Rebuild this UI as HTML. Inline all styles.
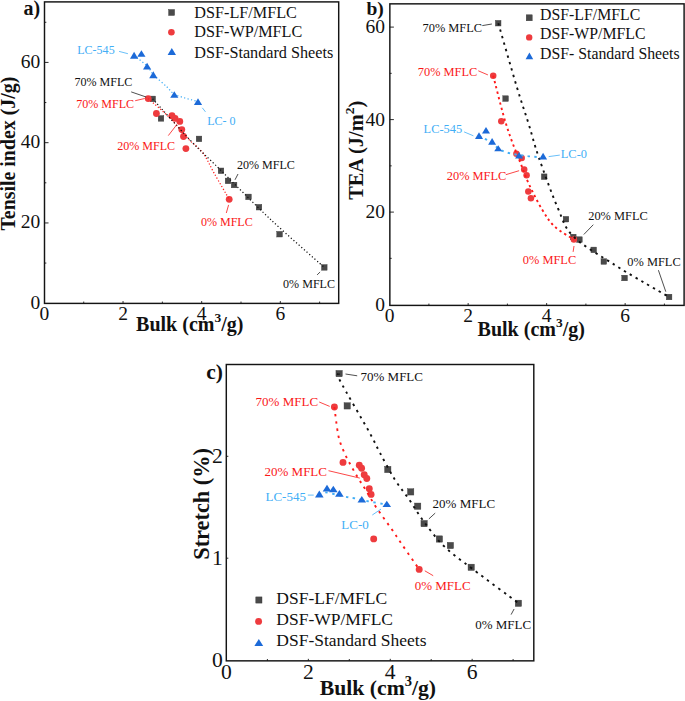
<!DOCTYPE html><html><head><meta charset="utf-8"><style>html,body{margin:0;padding:0;background:#fff;width:685px;height:701px;overflow:hidden}svg{display:block;font-family:"Liberation Serif",serif}</style></head><body>
<svg width="685" height="701" viewBox="0 0 685 701">
<rect x="44.5" y="1.9" width="294.20" height="301.50" fill="none" stroke="#141414" stroke-width="1.45"/>
<line x1="83.72" y1="303.4" x2="83.72" y2="301.57" stroke="#141414" stroke-width="0.9"/>
<line x1="123.04" y1="303.4" x2="123.04" y2="301.07" stroke="#141414" stroke-width="0.9"/>
<line x1="162.36" y1="303.4" x2="162.36" y2="301.57" stroke="#141414" stroke-width="0.9"/>
<line x1="201.68" y1="303.4" x2="201.68" y2="301.07" stroke="#141414" stroke-width="0.9"/>
<line x1="241.00" y1="303.4" x2="241.00" y2="301.57" stroke="#141414" stroke-width="0.9"/>
<line x1="280.32" y1="303.4" x2="280.32" y2="301.07" stroke="#141414" stroke-width="0.9"/>
<line x1="319.64" y1="303.4" x2="319.64" y2="301.57" stroke="#141414" stroke-width="0.9"/>
<line x1="44.5" y1="263.07" x2="46.33" y2="263.07" stroke="#141414" stroke-width="0.9"/>
<line x1="44.5" y1="222.94" x2="48.52" y2="222.94" stroke="#141414" stroke-width="0.9"/>
<line x1="44.5" y1="182.81" x2="46.33" y2="182.81" stroke="#141414" stroke-width="0.9"/>
<line x1="44.5" y1="142.68" x2="48.52" y2="142.68" stroke="#141414" stroke-width="0.9"/>
<line x1="44.5" y1="102.55" x2="46.33" y2="102.55" stroke="#141414" stroke-width="0.9"/>
<line x1="44.5" y1="62.42" x2="48.52" y2="62.42" stroke="#141414" stroke-width="0.9"/>
<line x1="44.5" y1="22.29" x2="46.33" y2="22.29" stroke="#141414" stroke-width="0.9"/>
<text x="40.2" y="308.59999999999997" fill="#111" font-size="19.5" font-weight="normal" text-anchor="end" >0</text>
<text x="40.2" y="228.34" fill="#111" font-size="19.5" font-weight="normal" text-anchor="end" >20</text>
<text x="40.2" y="148.08" fill="#111" font-size="19.5" font-weight="normal" text-anchor="end" >40</text>
<text x="40.2" y="67.82" fill="#111" font-size="19.5" font-weight="normal" text-anchor="end" >60</text>
<text x="44.4" y="320.1" fill="#111" font-size="19.5" font-weight="normal" text-anchor="middle" >0</text>
<text x="123.03999999999999" y="320.1" fill="#111" font-size="19.5" font-weight="normal" text-anchor="middle" >2</text>
<text x="201.68" y="320.1" fill="#111" font-size="19.5" font-weight="normal" text-anchor="middle" >4</text>
<text x="280.32" y="320.1" fill="#111" font-size="19.5" font-weight="normal" text-anchor="middle" >6</text>
<text x="15.4" y="153.6" fill="#111" font-size="19.9" font-weight="bold" text-anchor="middle" transform="rotate(-90 15.4 153.6)">Tensile index (J/g)</text>
<text x="136.1" y="330.5" fill="#111" font-size="20" font-weight="bold" text-anchor="start" >Bulk (cm<tspan dy="-8.6" font-size="13.5">3</tspan><tspan dy="8.6">/g)</tspan></text>
<text x="23.5" y="15.0" fill="#111" font-size="20" font-weight="bold" text-anchor="start" >a)</text>
<rect x="149.90" y="96.10" width="5.60" height="5.60" fill="#4a4a4a" stroke="#383838" stroke-width="0.4"/>
<rect x="158.20" y="115.60" width="5.60" height="5.60" fill="#4a4a4a" stroke="#383838" stroke-width="0.4"/>
<rect x="196.20" y="136.10" width="5.60" height="5.60" fill="#4a4a4a" stroke="#383838" stroke-width="0.4"/>
<rect x="218.20" y="168.00" width="5.60" height="5.60" fill="#4a4a4a" stroke="#383838" stroke-width="0.4"/>
<rect x="225.20" y="178.10" width="5.60" height="5.60" fill="#4a4a4a" stroke="#383838" stroke-width="0.4"/>
<rect x="231.30" y="182.20" width="5.60" height="5.60" fill="#4a4a4a" stroke="#383838" stroke-width="0.4"/>
<rect x="245.70" y="194.10" width="5.60" height="5.60" fill="#4a4a4a" stroke="#383838" stroke-width="0.4"/>
<rect x="256.20" y="204.40" width="5.60" height="5.60" fill="#4a4a4a" stroke="#383838" stroke-width="0.4"/>
<rect x="276.80" y="231.40" width="5.60" height="5.60" fill="#4a4a4a" stroke="#383838" stroke-width="0.4"/>
<rect x="321.50" y="264.60" width="5.60" height="5.60" fill="#4a4a4a" stroke="#383838" stroke-width="0.4"/>
<circle cx="148.20" cy="98.60" r="3.40" fill="#ee3b3e"/>
<circle cx="156.40" cy="113.50" r="3.40" fill="#ee3b3e"/>
<circle cx="172.00" cy="115.70" r="3.40" fill="#ee3b3e"/>
<circle cx="175.10" cy="118.40" r="3.40" fill="#ee3b3e"/>
<circle cx="179.80" cy="121.40" r="3.40" fill="#ee3b3e"/>
<circle cx="181.80" cy="129.60" r="3.40" fill="#ee3b3e"/>
<circle cx="183.50" cy="136.50" r="3.40" fill="#ee3b3e"/>
<circle cx="185.90" cy="148.60" r="3.40" fill="#ee3b3e"/>
<circle cx="229.20" cy="199.30" r="3.40" fill="#ee3b3e"/>
<path d="M148.20,98.60 C151.83,101.83 163.37,111.33 170.00,118.00 C176.63,124.67 182.53,132.80 188.00,138.60 C193.47,144.40 198.43,147.02 202.80,152.80 C207.17,158.58 209.80,165.55 214.20,173.30 C218.60,181.05 226.70,194.97 229.20,199.30" fill="none" stroke="#ff1a1a" stroke-width="1.25" stroke-dasharray="1.2 2.0"/>
<path d="M152.70,98.90 C159.08,105.92 179.88,129.33 191.00,141.00 C202.12,152.67 206.23,155.92 219.40,168.90 C232.57,181.88 252.53,202.50 270.00,218.90 C287.47,235.30 315.17,259.23 324.20,267.30" fill="none" stroke="#111" stroke-width="1.25" stroke-dasharray="1.2 2.3"/>
<path d="M134.10,55.50 C136.27,57.25 143.90,62.83 147.10,66.00 C150.30,69.17 150.03,71.05 153.30,74.50 C156.57,77.95 162.92,83.30 166.70,86.70 C170.48,90.10 170.80,92.42 176.00,94.90 C181.20,97.38 194.25,100.48 197.90,101.60" fill="none" stroke="#42aef6" stroke-width="1.25" stroke-dasharray="1.2 2.3"/>
<polygon points="134.10,51.70 130.00,58.70 138.20,58.70" fill="#1c6ad8"/>
<polygon points="141.40,50.30 137.30,56.70 145.50,56.70" fill="#1c6ad8"/>
<polygon points="147.10,62.80 143.00,69.50 151.20,69.50" fill="#1c6ad8"/>
<polygon points="153.30,71.30 149.20,78.20 157.40,78.20" fill="#1c6ad8"/>
<polygon points="174.30,91.20 170.20,97.80 178.40,97.80" fill="#1c6ad8"/>
<polygon points="198.00,98.30 193.90,104.90 202.10,104.90" fill="#1c6ad8"/>
<text x="77.2" y="54" fill="#42aef6" font-size="12.05" font-weight="normal" text-anchor="start" >LC-545</text>
<line x1="119.1" y1="51.4" x2="127.9" y2="53.7" stroke="#42aef6" stroke-width="0.8"/>
<text x="74.4" y="85.8" fill="#111" font-size="12.05" font-weight="normal" text-anchor="start" >70% MFLC</text>
<line x1="131.2" y1="91.9" x2="146.1" y2="97" stroke="#222" stroke-width="0.8"/>
<text x="76.2" y="107.7" fill="#fa1818" font-size="12.05" font-weight="normal" text-anchor="start" >70% MFLC</text>
<line x1="135.2" y1="100.7" x2="144.7" y2="98.5" stroke="#fa1818" stroke-width="0.8"/>
<text x="117.2" y="149.7" fill="#fa1818" font-size="12.05" font-weight="normal" text-anchor="start" >20% MFLC</text>
<line x1="168.3" y1="135.6" x2="176.6" y2="124.9" stroke="#fa1818" stroke-width="0.8"/>
<text x="207.2" y="124.6" fill="#42aef6" font-size="12.05" font-weight="normal" text-anchor="start" >LC- 0</text>
<line x1="202.3" y1="107.8" x2="205.5" y2="111.9" stroke="#42aef6" stroke-width="0.8"/>
<text x="237" y="169" fill="#111" font-size="12.05" font-weight="normal" text-anchor="start" >20% MFLC</text>
<line x1="238" y1="174" x2="235" y2="179.8" stroke="#222" stroke-width="0.8"/>
<text x="200.9" y="225.5" fill="#fa1818" font-size="12.05" font-weight="normal" text-anchor="start" >0% MFLC</text>
<line x1="228.6" y1="204.9" x2="226.3" y2="213" stroke="#fa1818" stroke-width="0.8"/>
<text x="283.1" y="287.5" fill="#111" font-size="12.05" font-weight="normal" text-anchor="start" >0% MFLC</text>
<line x1="317.1" y1="274.9" x2="320.1" y2="272" stroke="#222" stroke-width="0.8"/>
<rect x="168.60" y="9.50" width="6.00" height="6.00" fill="#4a4a4a" stroke="#383838" stroke-width="0.4"/>
<circle cx="171.40" cy="32.20" r="3.30" fill="#ee3b3e"/>
<polygon points="171.80,48.00 167.60,54.90 176.00,54.90" fill="#1c6ad8"/>
<text x="194.3" y="17.7" fill="#111" font-size="16.2" font-weight="normal" text-anchor="start" >DSF-LF/MFLC</text>
<text x="194.3" y="37.4" fill="#111" font-size="16.2" font-weight="normal" text-anchor="start" >DSF-WP/MFLC</text>
<text x="194.3" y="57.5" fill="#111" font-size="16.2" font-weight="normal" text-anchor="start" >DSF-Standard Sheets</text>
<rect x="389.85" y="3.85" width="294.25" height="301.55" fill="none" stroke="#141414" stroke-width="1.45"/>
<line x1="428.90" y1="305.4" x2="428.90" y2="303.57" stroke="#141414" stroke-width="0.9"/>
<line x1="468.15" y1="305.4" x2="468.15" y2="303.07" stroke="#141414" stroke-width="0.9"/>
<line x1="507.40" y1="305.4" x2="507.40" y2="303.57" stroke="#141414" stroke-width="0.9"/>
<line x1="546.65" y1="305.4" x2="546.65" y2="303.07" stroke="#141414" stroke-width="0.9"/>
<line x1="585.90" y1="305.4" x2="585.90" y2="303.57" stroke="#141414" stroke-width="0.9"/>
<line x1="625.15" y1="305.4" x2="625.15" y2="303.07" stroke="#141414" stroke-width="0.9"/>
<line x1="664.40" y1="305.4" x2="664.40" y2="303.57" stroke="#141414" stroke-width="0.9"/>
<line x1="389.85" y1="258.35" x2="391.68" y2="258.35" stroke="#141414" stroke-width="0.9"/>
<line x1="389.85" y1="212.10" x2="393.88" y2="212.10" stroke="#141414" stroke-width="0.9"/>
<line x1="389.85" y1="165.85" x2="391.68" y2="165.85" stroke="#141414" stroke-width="0.9"/>
<line x1="389.85" y1="119.60" x2="393.88" y2="119.60" stroke="#141414" stroke-width="0.9"/>
<line x1="389.85" y1="73.35" x2="391.68" y2="73.35" stroke="#141414" stroke-width="0.9"/>
<line x1="389.85" y1="27.10" x2="393.88" y2="27.10" stroke="#141414" stroke-width="0.9"/>
<text x="385" y="310.5" fill="#111" font-size="19.5" font-weight="normal" text-anchor="end" >0</text>
<text x="385" y="218.00000000000003" fill="#111" font-size="19.5" font-weight="normal" text-anchor="end" >20</text>
<text x="385" y="125.50000000000003" fill="#111" font-size="19.5" font-weight="normal" text-anchor="end" >40</text>
<text x="385" y="33.00000000000002" fill="#111" font-size="19.5" font-weight="normal" text-anchor="end" >60</text>
<text x="389.65" y="321.9" fill="#111" font-size="19.5" font-weight="normal" text-anchor="middle" >0</text>
<text x="468.15" y="321.9" fill="#111" font-size="19.5" font-weight="normal" text-anchor="middle" >2</text>
<text x="546.65" y="321.9" fill="#111" font-size="19.5" font-weight="normal" text-anchor="middle" >4</text>
<text x="625.15" y="321.9" fill="#111" font-size="19.5" font-weight="normal" text-anchor="middle" >6</text>
<text x="363.0" y="150.3" fill="#111" font-size="20.4" font-weight="bold" text-anchor="middle" transform="rotate(-90 363.0 150.3)">TEA (J/m<tspan dy="-8.6" font-size="13.5">2</tspan><tspan dy="8.6">)</tspan></text>
<text x="477.6" y="335.7" fill="#111" font-size="20" font-weight="bold" text-anchor="start" >Bulk (cm<tspan dy="-8.6" font-size="13.5">3</tspan><tspan dy="8.6">/g)</tspan></text>
<text x="366.5" y="15.1" fill="#111" font-size="19.5" font-weight="bold" text-anchor="start" >b)</text>
<rect x="495.40" y="20.40" width="5.60" height="5.60" fill="#4a4a4a" stroke="#383838" stroke-width="0.4"/>
<rect x="502.80" y="95.80" width="5.60" height="5.60" fill="#4a4a4a" stroke="#383838" stroke-width="0.4"/>
<rect x="541.40" y="173.90" width="5.60" height="5.60" fill="#4a4a4a" stroke="#383838" stroke-width="0.4"/>
<rect x="563.20" y="216.40" width="5.60" height="5.60" fill="#4a4a4a" stroke="#383838" stroke-width="0.4"/>
<rect x="570.50" y="234.20" width="5.60" height="5.60" fill="#4a4a4a" stroke="#383838" stroke-width="0.4"/>
<rect x="576.60" y="236.80" width="5.60" height="5.60" fill="#4a4a4a" stroke="#383838" stroke-width="0.4"/>
<rect x="590.90" y="247.10" width="5.60" height="5.60" fill="#4a4a4a" stroke="#383838" stroke-width="0.4"/>
<rect x="601.00" y="258.70" width="5.60" height="5.60" fill="#4a4a4a" stroke="#383838" stroke-width="0.4"/>
<rect x="621.80" y="275.20" width="5.60" height="5.60" fill="#4a4a4a" stroke="#383838" stroke-width="0.4"/>
<rect x="666.30" y="294.20" width="5.60" height="5.60" fill="#4a4a4a" stroke="#383838" stroke-width="0.4"/>
<circle cx="493.20" cy="75.70" r="3.25" fill="#ee3b3e"/>
<circle cx="501.30" cy="121.20" r="3.25" fill="#ee3b3e"/>
<circle cx="516.40" cy="153.80" r="3.25" fill="#ee3b3e"/>
<circle cx="521.70" cy="157.90" r="3.25" fill="#ee3b3e"/>
<circle cx="524.20" cy="169.60" r="3.25" fill="#ee3b3e"/>
<circle cx="526.60" cy="175.30" r="3.25" fill="#ee3b3e"/>
<circle cx="528.30" cy="191.60" r="3.25" fill="#ee3b3e"/>
<circle cx="530.90" cy="198.20" r="3.25" fill="#ee3b3e"/>
<circle cx="573.90" cy="239.60" r="3.25" fill="#ee3b3e"/>
<path d="M493.20,75.70 C494.97,82.50 500.67,105.53 503.80,116.50 C506.93,127.47 509.18,133.67 512.00,141.50 C514.82,149.33 517.90,156.43 520.70,163.50 C523.50,170.57 525.23,176.23 528.80,183.90 C532.37,191.57 537.80,202.40 542.10,209.50 C546.40,216.60 549.30,221.48 554.60,226.50 C559.90,231.52 570.68,237.42 573.90,239.60" fill="none" stroke="#ff1a1a" stroke-width="1.9" stroke-dasharray="2.3 3.2"/>
<path d="M498.30,23.20 C501.38,33.82 511.75,70.13 516.80,86.90 C521.85,103.67 524.93,112.05 528.60,123.80 C532.27,135.55 533.90,143.28 538.80,157.40 C543.70,171.52 552.20,195.28 558.00,208.50 C563.80,221.72 564.10,227.27 573.60,236.70 C583.10,246.13 602.98,257.30 615.00,265.10 C627.02,272.90 636.70,278.18 645.70,283.50 C654.70,288.82 665.12,294.75 669.00,297.00" fill="none" stroke="#111" stroke-width="1.9" stroke-dasharray="2.4 4.3"/>
<path d="M479.00,136.00 C480.70,136.88 485.07,138.72 489.20,141.30 C493.33,143.88 497.72,149.07 503.80,151.50 C509.88,153.93 519.15,154.93 525.70,155.90 C532.25,156.87 540.20,157.07 543.10,157.30" fill="none" stroke="#42aef6" stroke-width="1.9" stroke-dasharray="2.4 4.3"/>
<polygon points="479.00,132.30 475.00,138.90 483.00,138.90" fill="#1c6ad8"/>
<polygon points="486.00,127.00 482.00,133.40 490.00,133.40" fill="#1c6ad8"/>
<polygon points="492.10,138.10 488.10,144.70 496.10,144.70" fill="#1c6ad8"/>
<polygon points="498.20,145.20 494.20,151.30 502.20,151.30" fill="#1c6ad8"/>
<polygon points="519.10,152.10 515.10,158.40 523.10,158.40" fill="#1c6ad8"/>
<polygon points="543.10,152.80 539.10,159.40 547.10,159.40" fill="#1c6ad8"/>
<text x="422.5" y="31.5" fill="#111" font-size="12.4" font-weight="normal" text-anchor="start" >70% MFLC</text>
<line x1="482.3" y1="25.6" x2="491.9" y2="24" stroke="#222" stroke-width="0.8"/>
<text x="417.8" y="75.7" fill="#fa1818" font-size="12.4" font-weight="normal" text-anchor="start" >70% MFLC</text>
<line x1="478.3" y1="70.8" x2="487.9" y2="74.9" stroke="#fa1818" stroke-width="0.8"/>
<text x="423.6" y="132.8" fill="#42aef6" font-size="12.4" font-weight="normal" text-anchor="start" >LC-545</text>
<line x1="464.1" y1="131.9" x2="473.4" y2="135.8" stroke="#42aef6" stroke-width="0.8"/>
<text x="446.8" y="179.6" fill="#fa1818" font-size="12.4" font-weight="normal" text-anchor="start" >20% MFLC</text>
<line x1="505.8" y1="174.7" x2="519.1" y2="170.7" stroke="#fa1818" stroke-width="0.8"/>
<text x="560.8" y="158" fill="#42aef6" font-size="12.4" font-weight="normal" text-anchor="start" >LC-0</text>
<line x1="548.7" y1="156.6" x2="559.8" y2="155.1" stroke="#42aef6" stroke-width="0.8"/>
<text x="588.2" y="220.4" fill="#111" font-size="12.4" font-weight="normal" text-anchor="start" >20% MFLC</text>
<line x1="593.3" y1="224.7" x2="583.8" y2="234.5" stroke="#222" stroke-width="0.8"/>
<text x="522.8" y="264.1" fill="#fa1818" font-size="12.4" font-weight="normal" text-anchor="start" >0% MFLC</text>
<line x1="574" y1="246" x2="573.1" y2="251.9" stroke="#fa1818" stroke-width="0.8"/>
<text x="627.3" y="265.6" fill="#111" font-size="12.4" font-weight="normal" text-anchor="start" >0% MFLC</text>
<line x1="658.4" y1="270.2" x2="665.8" y2="291.7" stroke="#222" stroke-width="0.8"/>
<rect x="526.20" y="14.80" width="6.00" height="6.00" fill="#4a4a4a" stroke="#383838" stroke-width="0.4"/>
<circle cx="529.20" cy="37.40" r="3.20" fill="#ee3b3e"/>
<polygon points="529.40,52.40 525.60,59.30 533.20,59.30" fill="#1c6ad8"/>
<text x="540.1" y="19.9" fill="#111" font-size="15.8" font-weight="normal" text-anchor="start" >DSF-LF/MFLC</text>
<text x="540.1" y="39.1" fill="#111" font-size="15.8" font-weight="normal" text-anchor="start" >DSF-WP/MFLC</text>
<text x="540.1" y="58.6" fill="#111" font-size="15.8" font-weight="normal" text-anchor="start" >DSF- Standard Sheets</text>
<rect x="226.3" y="364.5" width="307.50" height="296.35" fill="none" stroke="#141414" stroke-width="1.45"/>
<line x1="267.40" y1="660.85" x2="267.40" y2="659.02" stroke="#141414" stroke-width="0.9"/>
<line x1="308.35" y1="660.85" x2="308.35" y2="658.83" stroke="#141414" stroke-width="0.9"/>
<line x1="349.30" y1="660.85" x2="349.30" y2="659.02" stroke="#141414" stroke-width="0.9"/>
<line x1="390.25" y1="660.85" x2="390.25" y2="658.83" stroke="#141414" stroke-width="0.9"/>
<line x1="431.20" y1="660.85" x2="431.20" y2="659.02" stroke="#141414" stroke-width="0.9"/>
<line x1="472.15" y1="660.85" x2="472.15" y2="658.83" stroke="#141414" stroke-width="0.9"/>
<line x1="513.10" y1="660.85" x2="513.10" y2="659.02" stroke="#141414" stroke-width="0.9"/>
<line x1="226.3" y1="558.20" x2="228.33" y2="558.20" stroke="#141414" stroke-width="0.9"/>
<line x1="226.3" y1="456.30" x2="228.33" y2="456.30" stroke="#141414" stroke-width="0.9"/>
<text x="222.8" y="666.6" fill="#111" font-size="21.6" font-weight="normal" text-anchor="end" >0</text>
<text x="222.8" y="564.7" fill="#111" font-size="21.6" font-weight="normal" text-anchor="end" >1</text>
<text x="222.8" y="462.8" fill="#111" font-size="21.6" font-weight="normal" text-anchor="end" >2</text>
<text x="226.45" y="679.4" fill="#111" font-size="21.6" font-weight="normal" text-anchor="middle" >0</text>
<text x="308.35" y="679.4" fill="#111" font-size="21.6" font-weight="normal" text-anchor="middle" >2</text>
<text x="390.25" y="679.4" fill="#111" font-size="21.6" font-weight="normal" text-anchor="middle" >4</text>
<text x="472.15" y="679.4" fill="#111" font-size="21.6" font-weight="normal" text-anchor="middle" >6</text>
<text x="209" y="503.9" fill="#111" font-size="22.3" font-weight="bold" text-anchor="middle" transform="rotate(-90 209 503.9)">Stretch (%)</text>
<text x="319.8" y="694.9" fill="#111" font-size="21.7" font-weight="bold" text-anchor="start" >Bulk (cm<tspan dy="-9.2" font-size="14.5">3</tspan><tspan dy="9.2">/g)</tspan></text>
<text x="206.3" y="379.3" fill="#111" font-size="21.5" font-weight="bold" text-anchor="start" >c)</text>
<rect x="335.95" y="370.45" width="6.30" height="6.30" fill="#4a4a4a" stroke="#383838" stroke-width="0.4"/>
<rect x="344.05" y="402.75" width="6.30" height="6.30" fill="#4a4a4a" stroke="#383838" stroke-width="0.4"/>
<rect x="384.65" y="466.35" width="6.30" height="6.30" fill="#4a4a4a" stroke="#383838" stroke-width="0.4"/>
<rect x="407.55" y="488.75" width="6.30" height="6.30" fill="#4a4a4a" stroke="#383838" stroke-width="0.4"/>
<rect x="414.55" y="503.05" width="6.30" height="6.30" fill="#4a4a4a" stroke="#383838" stroke-width="0.4"/>
<rect x="420.95" y="520.45" width="6.30" height="6.30" fill="#4a4a4a" stroke="#383838" stroke-width="0.4"/>
<rect x="436.25" y="535.85" width="6.30" height="6.30" fill="#4a4a4a" stroke="#383838" stroke-width="0.4"/>
<rect x="447.25" y="542.35" width="6.30" height="6.30" fill="#4a4a4a" stroke="#383838" stroke-width="0.4"/>
<rect x="468.05" y="564.15" width="6.30" height="6.30" fill="#4a4a4a" stroke="#383838" stroke-width="0.4"/>
<rect x="515.25" y="600.15" width="6.30" height="6.30" fill="#4a4a4a" stroke="#383838" stroke-width="0.4"/>
<circle cx="334.40" cy="407.00" r="3.45" fill="#ee3b3e"/>
<circle cx="343.00" cy="462.40" r="3.45" fill="#ee3b3e"/>
<circle cx="359.30" cy="465.30" r="3.45" fill="#ee3b3e"/>
<circle cx="361.60" cy="468.20" r="3.45" fill="#ee3b3e"/>
<circle cx="364.20" cy="474.80" r="3.45" fill="#ee3b3e"/>
<circle cx="366.80" cy="478.50" r="3.45" fill="#ee3b3e"/>
<circle cx="369.30" cy="488.70" r="3.45" fill="#ee3b3e"/>
<circle cx="371.10" cy="494.40" r="3.45" fill="#ee3b3e"/>
<circle cx="373.70" cy="538.90" r="3.45" fill="#ee3b3e"/>
<circle cx="419.20" cy="569.40" r="3.45" fill="#ee3b3e"/>
<path d="M334.40,407.00 C335.08,411.87 336.82,428.53 338.50,436.20 C340.18,443.87 342.35,447.97 344.50,453.00 C346.65,458.03 349.08,462.15 351.40,466.40 C353.72,470.65 356.02,474.60 358.40,478.50 C360.78,482.40 362.78,485.07 365.70,489.80 C368.62,494.53 371.52,500.27 375.90,506.90 C380.28,513.53 387.65,523.33 392.00,529.60 C396.35,535.87 397.47,537.87 402.00,544.50 C406.53,551.13 416.33,565.25 419.20,569.40" fill="none" stroke="#ff1a1a" stroke-width="1.9" stroke-dasharray="2.4 4.8"/>
<path d="M339.10,373.60 C339.28,374.83 335.20,371.30 340.20,381.00 C345.20,390.70 362.47,419.82 369.10,431.80 C375.73,443.78 375.75,445.00 380.00,452.90 C384.25,460.80 389.73,471.42 394.60,479.20 C399.47,486.98 404.33,492.55 409.20,499.60 C414.07,506.65 417.97,513.70 423.80,521.50 C429.63,529.30 436.07,538.48 444.20,546.40 C452.33,554.32 460.22,559.53 472.60,569.00 C484.98,578.47 510.85,597.50 518.50,603.20" fill="none" stroke="#111" stroke-width="1.9" stroke-dasharray="2.4 4.6"/>
<path d="M319.30,495.00 C320.22,494.55 320.72,492.07 324.80,492.30 C328.88,492.53 338.93,495.42 343.80,496.40 C348.67,497.38 349.87,497.37 354.00,498.20 C358.13,499.03 363.13,500.35 368.60,501.40 C374.07,502.45 383.77,503.98 386.80,504.50" fill="none" stroke="#42aef6" stroke-width="1.9" stroke-dasharray="2.4 4.6"/>
<polygon points="319.30,490.50 315.00,497.50 323.60,497.50" fill="#1c6ad8"/>
<polygon points="327.00,484.70 322.70,491.60 331.30,491.60" fill="#1c6ad8"/>
<polygon points="333.30,485.80 329.00,492.30 337.60,492.30" fill="#1c6ad8"/>
<polygon points="339.40,490.10 335.10,496.70 343.70,496.70" fill="#1c6ad8"/>
<polygon points="361.80,496.00 357.50,502.60 366.10,502.60" fill="#1c6ad8"/>
<polygon points="386.80,500.80 382.50,507.00 391.10,507.00" fill="#1c6ad8"/>
<text x="360.5" y="381" fill="#111" font-size="13.0" font-weight="normal" text-anchor="start" >70% MFLC</text>
<line x1="345.5" y1="374" x2="357.2" y2="375.8" stroke="#222" stroke-width="0.8"/>
<text x="255.6" y="405.9" fill="#fa1818" font-size="13.0" font-weight="normal" text-anchor="start" >70% MFLC</text>
<line x1="319.2" y1="402" x2="329.7" y2="406.4" stroke="#fa1818" stroke-width="0.8"/>
<text x="264.5" y="476" fill="#fa1818" font-size="13.0" font-weight="normal" text-anchor="start" >20% MFLC</text>
<line x1="328.5" y1="470.7" x2="359.8" y2="478.1" stroke="#fa1818" stroke-width="0.8"/>
<text x="265.5" y="500.7" fill="#42aef6" font-size="13.0" font-weight="normal" text-anchor="start" >LC-545</text>
<line x1="307.8" y1="495.1" x2="313.7" y2="495.1" stroke="#42aef6" stroke-width="0.8"/>
<text x="341.3" y="528.8" fill="#42aef6" font-size="13.0" font-weight="normal" text-anchor="start" >LC-0</text>
<line x1="372.3" y1="515" x2="381" y2="509.1" stroke="#42aef6" stroke-width="0.8"/>
<text x="432.6" y="508.4" fill="#111" font-size="13.0" font-weight="normal" text-anchor="start" >20% MFLC</text>
<line x1="435.2" y1="513.1" x2="428.9" y2="518.9" stroke="#222" stroke-width="0.8"/>
<text x="414.7" y="590.4" fill="#fa1818" font-size="13.0" font-weight="normal" text-anchor="start" >0% MFLC</text>
<line x1="424.8" y1="570.8" x2="433.2" y2="575.7" stroke="#fa1818" stroke-width="0.8"/>
<text x="475.2" y="628.6" fill="#111" font-size="13.0" font-weight="normal" text-anchor="start" >0% MFLC</text>
<line x1="511.1" y1="614.6" x2="514.1" y2="609" stroke="#222" stroke-width="0.8"/>
<rect x="255.80" y="596.90" width="6.20" height="6.20" fill="#4a4a4a" stroke="#383838" stroke-width="0.4"/>
<circle cx="258.60" cy="621.40" r="3.45" fill="#ee3b3e"/>
<polygon points="258.80,638.90 254.40,646.00 263.20,646.00" fill="#1c6ad8"/>
<text x="276.3" y="603.5" fill="#111" font-size="17.5" font-weight="normal" text-anchor="start" >DSF-LF/MFLC</text>
<text x="276.3" y="625.3" fill="#111" font-size="17.5" font-weight="normal" text-anchor="start" >DSF-WP/MFLC</text>
<text x="276.3" y="646.3" fill="#111" font-size="17.5" font-weight="normal" text-anchor="start" >DSF-Standard Sheets</text>
</svg></body></html>
